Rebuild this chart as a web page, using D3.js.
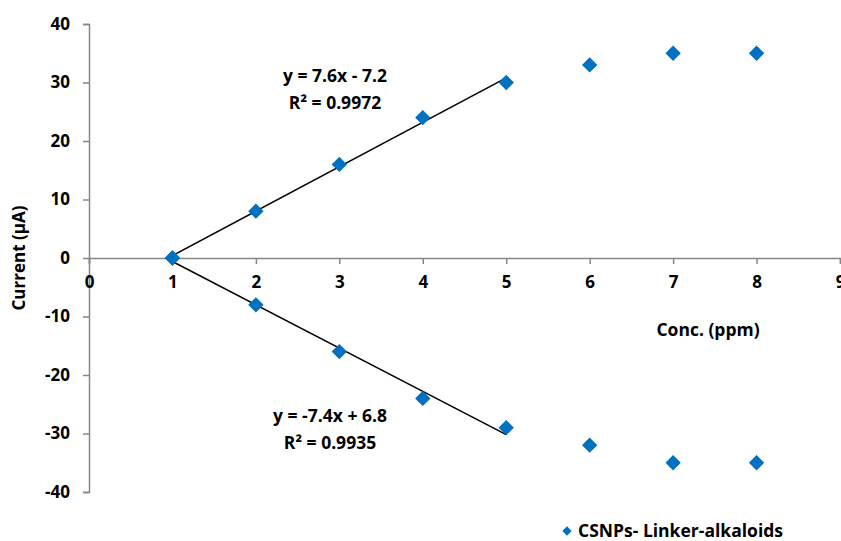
<!DOCTYPE html>
<html>
<head>
<meta charset="utf-8">
<script src="https://cdn.jsdelivr.net/npm/d3@7"></script>
<style>
  body { margin: 0; background: #fff; }
  text { font-family: "Open Sans", "Liberation Sans", sans-serif; font-weight: bold; fill: #000; }
</style>
</head>
<body>
<div id="chart"></div>
<script>
// values
var concs = [1, 2, 3, 4, 5, 6, 7, 8];
var upperCurrent = [0, 8, 16, 24, 30, 33, 35, 35];
var lowerCurrent = [0, -8, -16, -24, -29, -32, -35, -35];
var xTicks = [0, 1, 2, 3, 4, 5, 6, 7, 8, 9];
var yTicks = [-40, -30, -20, -10, 0, 10, 20, 30, 40];
var upperFit = { slope: 7.6, icept: -7.2, label: "y = 7.6x - 7.2", r2: "R\u00b2 = 0.9972", from: 1, to: 5 };
var lowerFit = { slope: -7.4, icept: 6.8, label: "y = -7.4x + 6.8", r2: "R\u00b2 = 0.9935", from: 1, to: 5 };
var seriesName = "CSNPs- Linker-alkaloids";

var W = 841, H = 541;
var svg = d3.select("#chart").append("svg").attr("width", W).attr("height", H);

var x = d3.scaleLinear().domain([0, 9]).range([89, 840]);
var y = d3.scaleLinear().domain([-40, 40]).range([492, 24]);
var axisCol = "#868686", blue = "#0070C0";
var plain = function(d) { return String(d); }; // hyphen minus like the original

// y axis (left)
var yAx = svg.append("g").attr("transform", "translate(" + x(0) + ",0)")
  .call(d3.axisLeft(y).tickValues(yTicks).tickSize(6).tickPadding(13).tickFormat(plain));
yAx.select(".domain").attr("stroke", axisCol).attr("stroke-width", 1.5);
yAx.selectAll(".tick line").attr("stroke", axisCol).attr("stroke-width", 1.5);
yAx.selectAll("text").style("font-size", "17px").attr("fill", "#000");

// x axis through zero
var xAx = svg.append("g").attr("transform", "translate(0," + y(0) + ")")
  .call(d3.axisBottom(x).tickValues(xTicks).tickSize(6).tickPadding(12).tickFormat(plain));
xAx.select(".domain").attr("stroke", axisCol).attr("stroke-width", 1.5);
xAx.selectAll(".tick line").attr("stroke", axisCol).attr("stroke-width", 1.5);
xAx.selectAll("text").style("font-size", "17px").attr("fill", "#000");

// trend lines
[upperFit, lowerFit].forEach(function(f) {
  svg.append("line")
    .attr("x1", x(f.from)).attr("y1", y(f.slope * f.from + f.icept))
    .attr("x2", x(f.to)).attr("y2", y(f.slope * f.to + f.icept))
    .attr("stroke", "#000").attr("stroke-width", 1.5);
});

// markers
var diamond = d3.symbol().type(d3.symbolDiamond2).size(150);
var pts = concs.map(function(c, i) { return [c, upperCurrent[i]]; })
  .concat(concs.map(function(c, i) { return [c, lowerCurrent[i]]; }));
svg.selectAll("path.pt").data(pts).enter().append("path")
  .attr("class", "pt")
  .attr("d", diamond)
  .attr("transform", function(d) { return "translate(" + x(d[0]) + "," + y(d[1]) + ")"; })
  .attr("fill", blue);

// equations
function eq(f, cx, cy) {
  svg.append("text").attr("x", cx).attr("y", cy).attr("text-anchor", "middle")
    .style("font-size", "17.5px").text(f.label);
  svg.append("text").attr("x", cx).attr("y", cy + 27).attr("text-anchor", "middle")
    .style("font-size", "17.5px").text(f.r2);
}
eq(upperFit, 335, 82);
eq(lowerFit, 330, 422);

// axis titles
svg.append("text").attr("transform", "translate(25,258) rotate(-90)")
  .attr("text-anchor", "middle").style("font-size", "17px").text("Current (\u00b5A)");
svg.append("text").attr("x", 708).attr("y", 336).attr("text-anchor", "middle")
  .style("font-size", "17.5px").text("Conc. (ppm)");

// legend
svg.append("path").attr("d", d3.symbol().type(d3.symbolDiamond2).size(55))
  .attr("transform", "translate(567,531)").attr("fill", blue);
svg.append("text").attr("x", 578).attr("y", 537).style("font-size", "17.5px").text(seriesName);
</script>
</body>
</html>
